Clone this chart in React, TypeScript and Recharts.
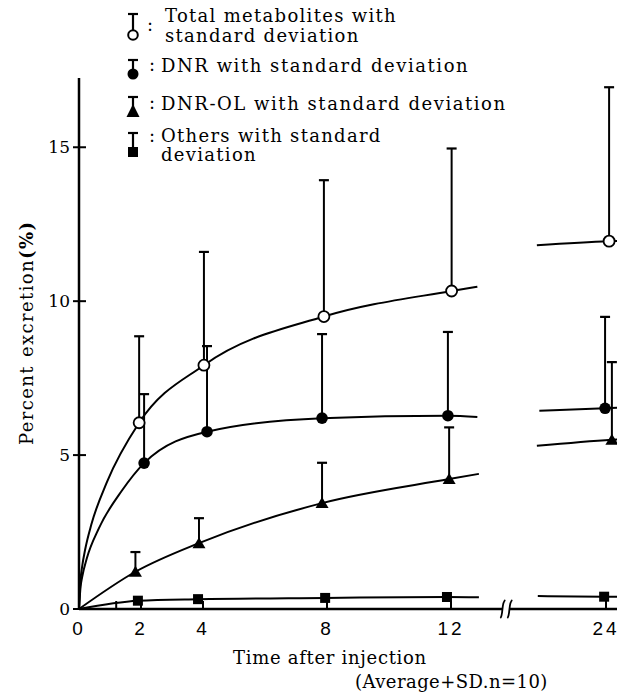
import {
  ComposedChart, Line, Scatter, XAxis, YAxis, ErrorBar, ReferenceDot,
} from "recharts";

// hours after injection where each marker sits
const totalHours = [1.94, 4.03, 7.9, 12.02, 24.1];
const totalMean = [6.05, 7.92, 9.5, 10.33, 11.95];
const totalSD = [2.81, 3.68, 4.43, 4.63, 5.0];

const dnrHours = [2.1, 4.13, 7.84, 11.9, 23.97];
const dnrMean = [4.74, 5.76, 6.2, 6.28, 6.52];
const dnrSD = [2.24, 2.78, 2.73, 2.72, 2.97];

const olHours = [1.82, 3.87, 7.84, 11.94, 24.19];
const olMean = [1.21, 2.14, 3.44, 4.22, 5.5];
const olSD = [0.64, 0.81, 1.31, 1.68, 2.52];

const othHours = [1.9, 3.84, 7.94, 11.87, 23.94];
const othMean = [0.27, 0.32, 0.36, 0.39, 0.4];

// fitted curves as drawn (left part up to ~13 h, right part past the axis break)
const totalCurveH = [0, 0.05, 0.1, 0.2, 0.4, 0.9, 1.94, 4.03, 7.9, 12.02, 12.85];
const totalCurveY = [0, 0.95, 1.37, 1.94, 2.75, 4.12, 6.05, 7.92, 9.5, 10.33, 10.47];
const totalCurveRH = [21.77, 24.1, 24.7];
const totalCurveRY = [11.82, 11.95, 11.97];

const dnrCurveH = [0, 0.05, 0.1, 0.25, 0.64, 1.38, 2.1, 4.13, 7.84, 11.9, 12.85];
const dnrCurveY = [0, 0.72, 1.03, 1.64, 2.62, 3.84, 4.74, 5.76, 6.2, 6.28, 6.24];
const dnrCurveRH = [21.85, 23.97, 24.7];
const dnrCurveRY = [6.44, 6.52, 6.55];

const olCurveH = [0, 1.82, 3.87, 7.84, 11.94, 12.9];
const olCurveY = [0, 1.21, 2.14, 3.44, 4.22, 4.39];
const olCurveRH = [21.77, 24.19, 24.7];
const olCurveRY = [5.3, 5.5, 5.53];

const othCurveH = [0, 1.9, 3.84, 7.94, 11.87, 12.9];
const othCurveY = [0, 0.27, 0.32, 0.36, 0.39, 0.38];
const othCurveRH = [21.8, 23.94, 24.7];
const othCurveRY = [0.42, 0.4, 0.4];

const tickHours = [0, 1.2, 2, 4, 8, 12, 24];
const yTicks = [0, 5, 10, 15];

// broken time axis: everything after the break is pulled left by 7 h
const BREAK_SHIFT = 7;
const disp = (h: number) => (h > 13 ? h - BREAK_SHIFT : h);
const BREAK_AT = 13.72;

const SERIF = "'DejaVu Serif', serif";

const points = (hours: number[], mean: number[]) =>
  hours.map((h, i) => ({ x: disp(h), y: mean[i] }));

const caps = (hours: number[], mean: number[], sd: number[]) =>
  hours.map((h, i) => ({ x: disp(h), y: mean[i] + sd[i], err: [sd[i], 0] }));

const curve = (lh: number[], ly: number[], rh: number[], ry: number[]) => [
  ...lh.map((h, i) => ({ x: disp(h), y: ly[i] as number | null })),
  { x: BREAK_AT, y: null },
  ...rh.map((h, i) => ({ x: disp(h), y: ry[i] as number | null })),
];

const OpenCircle = ({ cx, cy }: any) => (
  <circle cx={cx} cy={cy} r={5.5} fill="#fff" stroke="#000" strokeWidth={1.8} />
);
const Dot = ({ cx, cy }: any) => <circle cx={cx} cy={cy} r={5.8} fill="#000" />;
const Tri = ({ cx, cy }: any) => (
  <polygon points={`${cx},${cy - 6} ${cx + 6.5},${cy + 5} ${cx - 6.5},${cy + 5}`} fill="#000" />
);
const Sq = ({ cx, cy }: any) => <rect x={cx - 5} y={cy - 5} width={10} height={10} fill="#000" />;
const Cap = ({ cx, cy }: any) => (
  <line x1={cx - 5} x2={cx + 5} y1={cy} y2={cy} stroke="#000" strokeWidth={2.2} />
);

const XTick = ({ x, y, payload }: any) => {
  const i = tickHours.findIndex((h) => Math.abs(disp(h) - payload.value) < 0.01);
  const h = tickHours[i];
  return (
    <g>
      <line x1={x} x2={x} y1={y} y2={y - 8} stroke="#000" strokeWidth={2} />
      {h !== 1.2 && (
        <text x={x} y={y + 26} textAnchor="middle" fontFamily="'Liberation Sans', sans-serif"
          fontSize={19} letterSpacing={3} fill="#000">
          {h}
        </text>
      )}
    </g>
  );
};

const YTick = ({ x, y, payload }: any) => (
  <g>
    <line x1={x - 6} x2={x + 7} y1={y} y2={y} stroke="#000" strokeWidth={2} />
    <text x={x - 9} y={y} dy="0.36em" textAnchor="end" fontFamily={SERIF} fontSize={17} fill="#000">
      {payload.value}
    </text>
  </g>
);

const BreakMark = ({ cx, cy }: any) => (
  <g>
    <path d={`M${cx - 4} ${cy + 9} C${cx - 1} ${cy + 7} ${cx - 3} ${cy - 7} ${cx + 1} ${cy - 9} L${cx + 8} ${cy - 9} C${cx + 4} ${cy - 7} ${cx + 6} ${cy + 7} ${cx + 3} ${cy + 9} Z`}
      fill="#fff" stroke="none" />
    <path d={`M${cx - 4} ${cy + 9} C${cx - 1} ${cy + 7} ${cx - 3} ${cy - 7} ${cx + 1} ${cy - 9}`}
      fill="none" stroke="#000" strokeWidth={1.8} />
    <path d={`M${cx + 3} ${cy + 9} C${cx + 6} ${cy + 7} ${cx + 4} ${cy - 7} ${cx + 8} ${cy - 9}`}
      fill="none" stroke="#000" strokeWidth={1.8} />
  </g>
);

function LegendAndTitles() {
  const sx = 133;
  const t = { fontFamily: SERIF, fontSize: 18, fill: "#000", letterSpacing: 1.55 };
  const capLine = (y: number, y2: number) => (
    <g stroke="#000" strokeWidth={2.2}>
      <line x1={sx - 5} x2={sx + 5} y1={y} y2={y} />
      <line x1={sx} x2={sx} y1={y} y2={y2} />
    </g>
  );
  return (
    <svg width={617} height={695} style={{ position: "absolute", left: 0, top: 0, pointerEvents: "none" }}>
      {capLine(14, 31)}
      <circle cx={sx} cy={35} r={4.8} fill="#fff" stroke="#000" strokeWidth={2} />
      <text x={147} y={31} {...t}>:</text>
      <text x={165} y={22} {...t} letterSpacing={1.3}>Total metabolites with</text>
      <text x={165} y={42} {...t} letterSpacing={1.3}>standard deviation</text>

      {capLine(60, 74)}
      <circle cx={sx} cy={74} r={5.5} fill="#000" />
      <text x={149} y={71} {...t}>:</text>
      <text x={161} y={72} {...t}>DNR with standard deviation</text>

      {capLine(97, 110)}
      <polygon points={`${sx},${104} ${sx + 6.5},${117} ${sx - 6.5},${117}`} fill="#000" />
      <text x={149} y={109} {...t}>:</text>
      <text x={161} y={110} {...t}>DNR-OL with standard deviation</text>

      {capLine(133, 148)}
      <rect x={sx - 5} y={147} width={10} height={10} fill="#000" />
      <text x={149} y={142} {...t}>:</text>
      <text x={161} y={142} {...t} letterSpacing={1.3}>Others with standard</text>
      <text x={161} y={161} {...t} letterSpacing={1.3}>deviation</text>

      <text transform="translate(33,445) rotate(-90)" {...t} fontSize={18} letterSpacing={1.4}>
        Percent<tspan dx={8}>excretion</tspan><tspan fontWeight="bold">(%)</tspan>
      </text>

      <text x={233} y={664} {...t} letterSpacing={0.7}>Time after injection</text>
      <text x={355} y={688} {...t} letterSpacing={0.45}>(Average+SD.n=10)</text>
    </svg>
  );
}

export default function App() {
  const series = [
    { key: "total", hours: totalHours, mean: totalMean, sd: totalSD, shape: OpenCircle,
      c: curve(totalCurveH, totalCurveY, totalCurveRH, totalCurveRY) },
    { key: "dnr", hours: dnrHours, mean: dnrMean, sd: dnrSD, shape: Dot,
      c: curve(dnrCurveH, dnrCurveY, dnrCurveRH, dnrCurveRY) },
    { key: "ol", hours: olHours, mean: olMean, sd: olSD, shape: Tri,
      c: curve(olCurveH, olCurveY, olCurveRH, olCurveRY) },
    { key: "oth", hours: othHours, mean: othMean, sd: null, shape: Sq,
      c: curve(othCurveH, othCurveY, othCurveRH, othCurveRY) },
  ];

  return (
    <div style={{ position: "absolute", left: 0, top: 0, width: 617, height: 695, overflow: "hidden", background: "#fff" }}>
      <ComposedChart width={637} height={695} margin={{ top: 78, right: 0, bottom: 0, left: 0 }}>
        <XAxis
          type="number"
          dataKey="x"
          domain={[0, 18]}
          ticks={tickHours.map(disp)}
          tick={<XTick />}
          tickSize={0}
          tickMargin={0}
          height={86}
          axisLine={{ stroke: "#000", strokeWidth: 2.5 }}
          tickLine={false}
          interval={0}
        />
        <YAxis
          type="number"
          domain={[0, 17.25]}
          ticks={yTicks}
          tick={<YTick />}
          tickSize={0}
          tickMargin={0}
          width={79}
          axisLine={{ stroke: "#000", strokeWidth: 2.5 }}
          tickLine={false}
          interval={0}
        />
        {series.map((s) => (
          <Line key={`c-${s.key}`} data={s.c} dataKey="y" type="monotone" stroke="#000" strokeWidth={2}
            dot={false} activeDot={false} connectNulls={false} isAnimationActive={false} />
        ))}
        {series.filter((s) => s.sd).map((s) => (
          <Scatter key={`e-${s.key}`} data={caps(s.hours, s.mean, s.sd as number[])} dataKey="y"
            shape={<Cap />} isAnimationActive={false}>
            <ErrorBar dataKey="err" direction="y" width={0} stroke="#000" strokeWidth={2} />
          </Scatter>
        ))}
        {series.map((s) => (
          <Scatter key={`m-${s.key}`} data={points(s.hours, s.mean)} dataKey="y"
            shape={<s.shape />} isAnimationActive={false} />
        ))}
        <ReferenceDot x={BREAK_AT} y={0} shape={<BreakMark />} ifOverflow="visible" />
      </ComposedChart>
      <LegendAndTitles />
    </div>
  );
}
